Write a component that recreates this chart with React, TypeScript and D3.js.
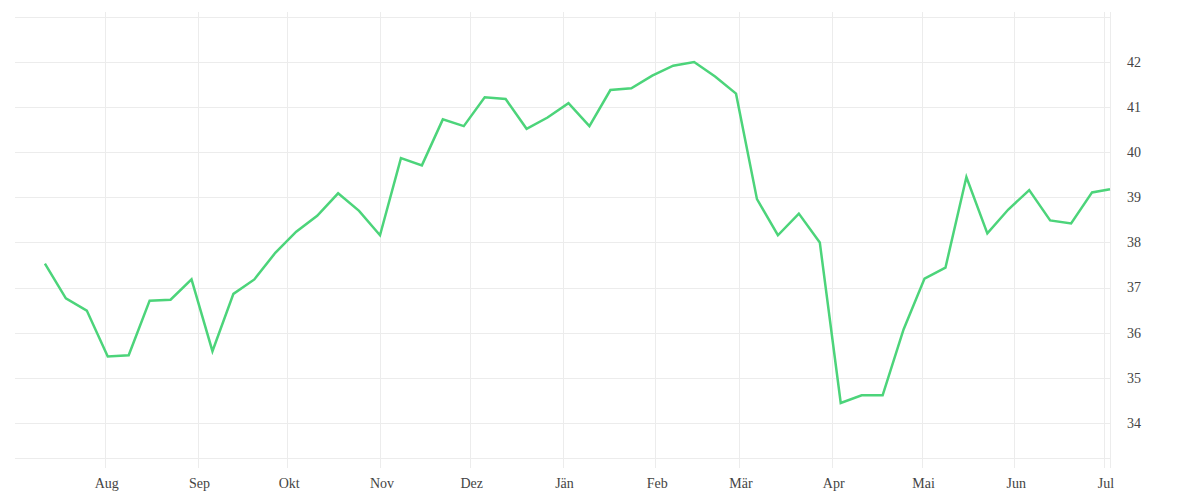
import React, { useRef, useEffect } from 'react';
import * as d3 from 'd3';

// weekly readings
const dates = [
  '2022-07-12', '2022-07-19', '2022-07-26', '2022-08-02', '2022-08-09', '2022-08-16', '2022-08-23',
  '2022-08-30', '2022-09-06', '2022-09-13', '2022-09-20', '2022-09-27', '2022-10-04', '2022-10-11',
  '2022-10-18', '2022-10-25', '2022-11-01', '2022-11-08', '2022-11-15', '2022-11-22', '2022-11-29',
  '2022-12-06', '2022-12-13', '2022-12-20', '2022-12-27', '2023-01-03', '2023-01-10', '2023-01-17',
  '2023-01-24', '2023-01-31', '2023-02-07', '2023-02-14', '2023-02-21', '2023-02-28', '2023-03-07',
  '2023-03-14', '2023-03-21', '2023-03-28', '2023-04-04', '2023-04-11', '2023-04-18', '2023-04-25',
  '2023-05-02', '2023-05-09', '2023-05-16', '2023-05-23', '2023-05-30', '2023-06-06', '2023-06-13',
  '2023-06-20', '2023-06-27', '2023-07-03',
];

const values = [
  37.53, 36.76, 36.49, 35.47, 35.5, 36.71, 36.73, 37.18, 35.59, 36.86, 37.18, 37.77, 38.24, 38.59,
  39.09, 38.7, 38.16, 39.87, 39.71, 40.73, 40.58, 41.22, 41.18, 40.52, 40.77, 41.09, 40.58, 41.38,
  41.42, 41.7, 41.92, 42.0, 41.68, 41.3, 38.96, 38.16, 38.64, 38.0, 34.44, 34.61, 34.61, 36.07,
  37.2, 37.44, 39.45, 38.2, 38.73, 39.16, 38.49, 38.42, 39.11, 39.18,
];

const monthLabels = ['Jän', 'Feb', 'Mär', 'Apr', 'Mai', 'Jun', 'Jul', 'Aug', 'Sep', 'Okt', 'Nov', 'Dez'];
const yTicks = [34, 35, 36, 37, 38, 39, 40, 41, 42];
const xDomain = ['2022-07-02', '2023-07-03'];
const yDomain = [33.22, 43];

const width = 1200;
const height = 500;
const margins = { left: 15, right: 90, top: 17, bottom: 42 };

export default function App() {
  const d3Container = useRef(null);

  useEffect(() => {
    if (!d3Container.current) return;
    const svg = d3.select(d3Container.current);
    svg.selectAll('*').remove();

    const parse = d3.timeParse('%Y-%m-%d');
    const data = dates.map((d, i) => ({ date: parse(d), value: values[i] }));

    const x = d3
      .scaleTime()
      .domain(xDomain.map((d) => parse(d)))
      .range([margins.left, width - margins.right]);

    const y = d3
      .scaleLinear()
      .domain(yDomain)
      .range([height - margins.bottom, margins.top]);

    const gridColor = '#ececec';
    const months = x.ticks(d3.timeMonth.every(1));

    // horizontal grid
    svg
      .append('g')
      .selectAll('line')
      .data([...yTicks, 43, yDomain[0]])
      .join('line')
      .attr('x1', margins.left)
      .attr('x2', width - margins.right)
      .attr('y1', (d) => Math.round(y(d)) + 0.5)
      .attr('y2', (d) => Math.round(y(d)) + 0.5)
      .style('stroke', gridColor)
      .style('stroke-width', 1);

    // vertical grid (month starts + right edge)
    svg
      .append('g')
      .selectAll('line')
      .data([...months.map((m) => x(m)), width - margins.right])
      .join('line')
      .attr('x1', (d) => Math.round(d) + 0.5)
      .attr('x2', (d) => Math.round(d) + 0.5)
      .attr('y1', 12)
      .attr('y2', 468)
      .style('stroke', gridColor)
      .style('stroke-width', 1);

    const font = '"Liberation Serif", "DejaVu Serif", serif';

    svg
      .append('g')
      .selectAll('text')
      .data(months)
      .join('text')
      .attr('x', (d) => x(d) + 2)
      .attr('y', 488)
      .attr('text-anchor', 'middle')
      .style('font-family', font)
      .style('font-size', '14px')
      .style('fill', '#444')
      .text((d) => monthLabels[d.getMonth()]);

    svg
      .append('g')
      .selectAll('text')
      .data(yTicks)
      .join('text')
      .attr('x', 1127)
      .attr('y', (d) => y(d))
      .attr('dy', '0.35em')
      .style('font-family', font)
      .style('font-size', '14px')
      .style('fill', '#444')
      .text((d) => d);

    const line = d3
      .line()
      .x((d: any) => x(d.date))
      .y((d: any) => y(d.value));

    svg
      .append('path')
      .datum(data)
      .attr('d', line as any)
      .style('fill', 'none')
      .style('stroke', '#4cd47a')
      .style('stroke-width', 2.5)
      .style('stroke-linejoin', 'miter');
  }, []);

  return (
    <svg
      ref={d3Container}
      width={width}
      height={height}
      style={{ position: 'absolute', left: 0, top: 0, background: '#fff' }}
    />
  );
}
